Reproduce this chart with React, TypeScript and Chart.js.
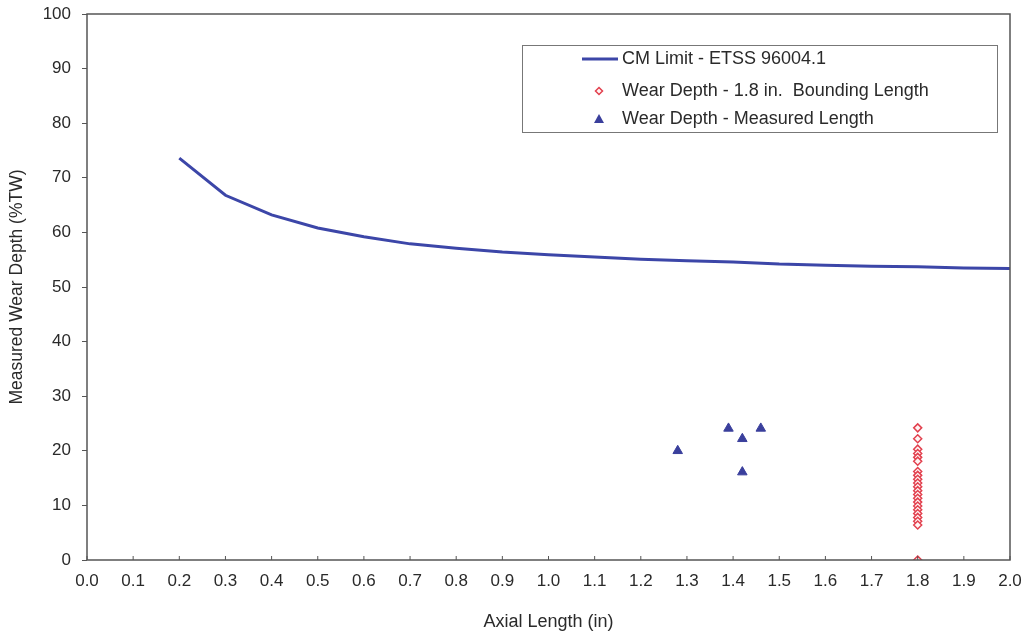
import React, { useEffect, useRef } from "react";
import { Chart, registerables } from "chart.js";

Chart.register(...registerables);

const limitX = [0.2, 0.3, 0.4, 0.5, 0.6, 0.7, 0.8, 0.9, 1.0, 1.1, 1.2, 1.3, 1.4, 1.5, 1.6, 1.7, 1.8, 1.9, 2.0];
const limitY = [73.6, 66.8, 63.2, 60.8, 59.2, 57.9, 57.1, 56.4, 55.9, 55.5, 55.1, 54.8, 54.6, 54.2, 54.0, 53.8, 53.7, 53.5, 53.4];

const boundingX = 1.8;
const boundingY = [24.2, 22.2, 20.3, 19.5, 18.8, 18.1, 16.2, 15.5, 14.8, 14.1, 13.4, 12.7, 12.0, 11.3, 10.6, 9.9, 9.2, 8.5, 7.8, 7.1, 6.4, 0];

const measuredX = [1.28, 1.39, 1.42, 1.46, 1.42];
const measuredY = [20.0, 24.1, 22.2, 24.1, 16.1];

const legendLabels = [
  "CM Limit - ETSS 96004.1",
  "Wear Depth - 1.8 in.  Bounding Length",
  "Wear Depth - Measured Length",
];

const xTicks = [0, 0.1, 0.2, 0.3, 0.4, 0.5, 0.6, 0.7, 0.8, 0.9, 1.0, 1.1, 1.2, 1.3, 1.4, 1.5, 1.6, 1.7, 1.8, 1.9, 2.0];

const FONT = "'Liberation Sans', Arial, sans-serif";
const LINE_COLOR = "#3c46a8";
const TRI_COLOR = "#3a3f9c";
const RED = "#e2404e";
const AXIS = "#555555";
const TEXT = "#2a2a2a";

const framePlugin = {
  id: "frame",
  afterDraw(chart: any) {
    const { ctx, chartArea } = chart;
    const { left, right, top, bottom } = chartArea;
    ctx.save();
    ctx.strokeStyle = AXIS;
    ctx.lineWidth = 1.5;
    ctx.strokeRect(left, top, right - left, bottom - top);
    const xs = chart.scales.x;
    ctx.lineWidth = 1;
    for (const t of xTicks) {
      const px = xs.getPixelForValue(t);
      ctx.beginPath();
      ctx.moveTo(px, bottom);
      ctx.lineTo(px, bottom - 4);
      ctx.stroke();
    }
    // legend
    const lx = 522, ly = 45, lw = 475, lh = 87;
    ctx.fillStyle = "#ffffff";
    ctx.fillRect(lx, ly, lw, lh);
    ctx.strokeStyle = "#777777";
    ctx.lineWidth = 1;
    ctx.strokeRect(lx + 0.5, ly + 0.5, lw, lh);
    ctx.font = "18px " + FONT;
    ctx.textBaseline = "middle";
    ctx.textAlign = "left";
    const rows = [59, 91, 119];
    const textX = 622;
    ctx.strokeStyle = LINE_COLOR;
    ctx.lineWidth = 3;
    ctx.beginPath();
    ctx.moveTo(582, rows[0]);
    ctx.lineTo(618, rows[0]);
    ctx.stroke();
    ctx.strokeStyle = RED;
    ctx.fillStyle = "#fff4f4";
    ctx.lineWidth = 1.5;
    ctx.beginPath();
    ctx.moveTo(599, rows[1] - 3.5);
    ctx.lineTo(602.5, rows[1]);
    ctx.lineTo(599, rows[1] + 3.5);
    ctx.lineTo(595.5, rows[1]);
    ctx.closePath();
    ctx.fill();
    ctx.stroke();
    ctx.fillStyle = TRI_COLOR;
    ctx.beginPath();
    ctx.moveTo(599, rows[2] - 5);
    ctx.lineTo(604, rows[2] + 4);
    ctx.lineTo(594, rows[2] + 4);
    ctx.closePath();
    ctx.fill();
    ctx.fillStyle = TEXT;
    legendLabels.forEach((s, i) => ctx.fillText(s, textX, rows[i]));
    ctx.restore();
  },
};

export default function App() {
  const ref = useRef<HTMLCanvasElement | null>(null);
  useEffect(() => {
    if (!ref.current) return;
    const chart = new Chart(ref.current, {
      type: "scatter",
      data: {
        datasets: [
          {
            label: legendLabels[0],
            data: limitX.map((x, i) => ({ x, y: limitY[i] })),
            showLine: true,
            borderColor: LINE_COLOR,
            borderWidth: 3,
            pointRadius: 0,
            tension: 0,
          },
          {
            label: legendLabels[1],
            data: boundingY.map((y) => ({ x: boundingX, y })),
            pointStyle: "rectRot",
            pointRadius: 4,
            borderColor: RED,
            backgroundColor: "#fff4f4",
            borderWidth: 1.5,
          },
          {
            label: legendLabels[2],
            data: measuredX.map((x, i) => ({ x, y: measuredY[i] })),
            pointStyle: "triangle",
            pointRadius: 5.5,
            borderColor: TRI_COLOR,
            backgroundColor: TRI_COLOR,
            borderWidth: 1,
          },
        ],
      },
      options: {
        animation: false,
        responsive: true,
        maintainAspectRatio: false,
        layout: { padding: { top: 14, right: 17, left: 0, bottom: 0 } },
        plugins: {
          legend: { display: false },
          tooltip: { enabled: false },
        },
        scales: {
          x: {
            type: "linear",
            min: 0,
            max: 2,
            afterBuildTicks: (s: any) => {
              s.ticks = xTicks.map((v) => ({ value: v }));
            },
            afterFit: (s: any) => {
              s.height = 74;
              s.paddingLeft = 0;
              s.paddingRight = 0;
            },
            grid: { display: false, drawTicks: false },
            border: { display: false },
            ticks: {
              padding: 11,
              maxRotation: 0,
              autoSkip: false,
              color: TEXT,
              font: { family: FONT, size: 17 },
              callback: (v: any) => Number(v).toFixed(1),
            },
            title: {
              display: true,
              text: "Axial Length (in)",
              color: TEXT,
              font: { family: FONT, size: 18, lineHeight: 1 },
              padding: { top: 0, bottom: 3 },
            },
          },
          y: {
            type: "linear",
            min: 0,
            max: 100,
            afterFit: (s: any) => {
              s.width = 87;
              s.paddingTop = 0;
              s.paddingBottom = 0;
            },
            grid: {
              display: true,
              drawOnChartArea: false,
              drawTicks: true,
              tickLength: 5,
              color: AXIS,
            },
            border: { display: false },
            ticks: {
              stepSize: 10,
              padding: 11,
              color: TEXT,
              font: { family: FONT, size: 17 },
            },
            title: {
              display: true,
              text: "Measured Wear Depth (%TW)",
              color: TEXT,
              font: { family: FONT, size: 17.5, lineHeight: 1.2 },
              padding: { top: 7, bottom: 0 },
            },
          },
        },
      },
      plugins: [framePlugin],
    });
    return () => chart.destroy();
  }, []);
  return (
    <div style={{ position: "absolute", left: 0, top: 0, width: 1027, height: 634 }}>
      <canvas ref={ref} />
    </div>
  );
}
